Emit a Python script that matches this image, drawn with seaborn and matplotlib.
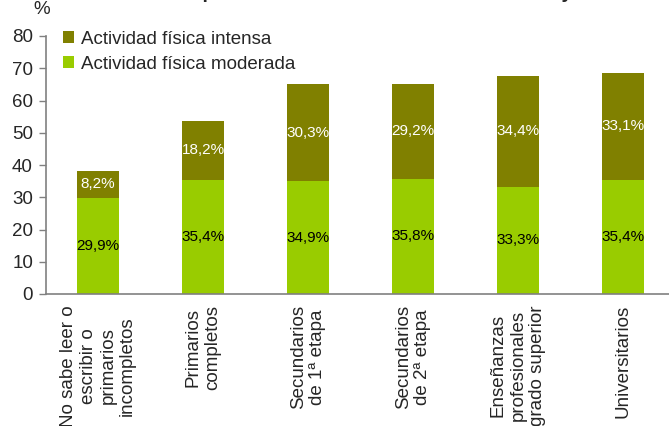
import matplotlib
matplotlib.use("Agg")
import matplotlib.pyplot as plt
import seaborn as sns
import pandas as pd
import numpy as np

# === Data ===
categories = [
    "No sabe leer o\nescribir o\nprimarios\nincompletos",
    "Primarios\ncompletos",
    "Secundarios\nde 1ª etapa",
    "Secundarios\nde 2ª etapa",
    "Enseñanzas\nprofesionales\ngrado superior",
    "Universitarios",
]
moderada = [29.9, 35.4, 34.9, 35.8, 33.3, 35.4]
intensa = [8.2, 18.2, 30.3, 29.2, 34.4, 33.1]
y_ticks = [0, 10, 20, 30, 40, 50, 60, 70, 80]

COL_INT = "#808000"
COL_MOD = "#99CC00"
AXIS_COL = "#808080"

sns.set_theme(style="white")
plt.rcParams["font.family"] = ["Liberation Sans", "DejaVu Sans"]

df = pd.DataFrame({"cat": categories, "mod": moderada, "int": intensa})
df["total"] = df["mod"] + df["int"]

fig = plt.figure(figsize=(6.69, 4.26), dpi=100)
ax = fig.add_axes([45.5 / 669, 132 / 426, 630 / 669, 258 / 426])

sns.barplot(data=df, x="cat", y="total", color=COL_INT, width=0.4,
            saturation=1, linewidth=0, ax=ax, label="Actividad física intensa")
sns.barplot(data=df, x="cat", y="mod", color=COL_MOD, width=0.4,
            saturation=1, linewidth=0, ax=ax, label="Actividad física moderada")

for i, row in df.iterrows():
    ax.text(i, row["mod"] / 2, f"{row['mod']:.1f}%".replace(".", ","),
            ha="center", va="center", fontsize=11, color="black")
    ax.text(i, row["mod"] + row["int"] / 2, f"{row['int']:.1f}%".replace(".", ","),
            ha="center", va="center", fontsize=11, color="white")

ax.set_xlim(-0.5, len(categories) - 0.5)
ax.set_ylim(0, 80)
ax.set_yticks(y_ticks)
ax.set_xlabel("")
ax.set_ylabel("")

# ticks between categories
ax.set_xticks(np.arange(len(categories)))
ax.set_xticklabels(categories, rotation=90, ha="center", va="top",
                   multialignment="center", fontsize=13.5, linespacing=1.2)
ax.set_xticks(np.arange(len(categories) + 1) - 0.5, minor=True)
ax.tick_params(axis="x", which="major", length=0, pad=8)
ax.tick_params(axis="x", which="minor", length=5, color=AXIS_COL, width=1, direction="out")
ax.tick_params(axis="y", length=5, color=AXIS_COL, width=1, direction="out",
               labelsize=13.5, pad=4, left=True)

for s in ["top", "right"]:
    ax.spines[s].set_visible(False)
for s in ["left", "bottom"]:
    ax.spines[s].set_color(AXIS_COL)
    ax.spines[s].set_linewidth(1.2)

ax.legend(loc="upper left", bbox_to_anchor=(0.016, 1.05), frameon=False,
          fontsize=13.5, handlelength=0.6, handleheight=0.6, handletextpad=0.35,
          labelspacing=0.45, borderaxespad=0)

fig.text(42 / 669, 1 - 9 / 426, "%", ha="center", va="center", fontsize=13.5)
fig.text(0.54, 1 + 2 / 426, "Actividad física por nivel de estudios. Población de 15 y más años",
         ha="center", va="baseline", fontsize=14, fontweight="bold")

fig.savefig("out.png", dpi=100)
